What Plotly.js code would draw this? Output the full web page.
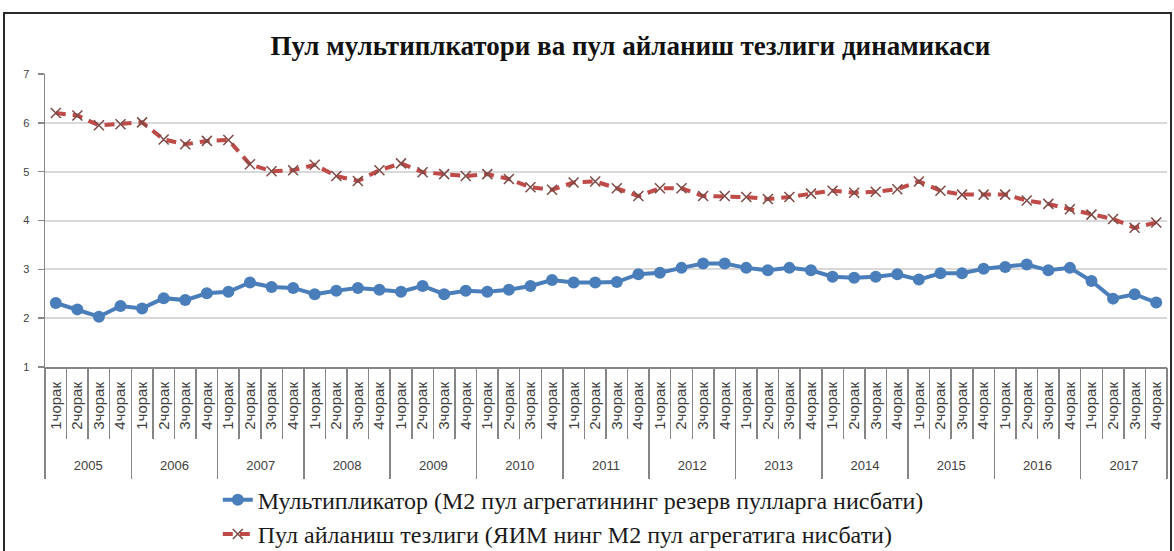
<!DOCTYPE html>
<html>
<head>
<meta charset="utf-8">
<script src="https://cdn.plot.ly/plotly-3.0.1.min.js"></script>
<style>
  html, body { margin: 0; padding: 0; background: #fff; }
  #chart { position: absolute; left: 0; top: 0; width: 1174px; height: 551px; }
  #frame { position: absolute; left: 3px; top: 12px; width: 1165px; height: 560px;
           border: 2px solid #2a2a2a; pointer-events: none; }
</style>
</head>
<body>
<div id="chart"></div>
<div id="frame"></div>
<script>
// ---- data ----
const years = ['2005','2006','2007','2008','2009','2010','2011','2012','2013','2014','2015','2016','2017'];
const quarters = ['1чорак','2чорак','3чорак','4чорак'];

const multiplier = [
  2.31, 2.18, 2.03, 2.25,   // 2005
  2.20, 2.41, 2.37, 2.51,   // 2006
  2.54, 2.73, 2.64, 2.62,   // 2007
  2.49, 2.56, 2.62, 2.58,   // 2008
  2.54, 2.66, 2.49, 2.56,   // 2009
  2.54, 2.58, 2.66, 2.78,   // 2010
  2.73, 2.73, 2.74, 2.90,   // 2011
  2.93, 3.03, 3.12, 3.12,   // 2012
  3.03, 2.98, 3.03, 2.98,   // 2013
  2.85, 2.83, 2.85, 2.90,   // 2014
  2.79, 2.92, 2.92, 3.01,   // 2015
  3.05, 3.10, 2.98, 3.03,   // 2016
  2.76, 2.40, 2.49, 2.32    // 2017
];

const velocity = [
  6.20, 6.15, 5.95, 5.97,   // 2005
  6.01, 5.66, 5.56, 5.63,   // 2006
  5.65, 5.15, 5.01, 5.03,   // 2007
  5.14, 4.91, 4.81, 5.03,   // 2008
  5.17, 4.99, 4.95, 4.91,   // 2009
  4.95, 4.85, 4.68, 4.63,   // 2010
  4.78, 4.80, 4.66, 4.50,   // 2011
  4.66, 4.66, 4.50, 4.50,   // 2012
  4.48, 4.44, 4.48, 4.55,   // 2013
  4.61, 4.57, 4.59, 4.64,   // 2014
  4.80, 4.61, 4.53, 4.53,   // 2015
  4.53, 4.41, 4.34, 4.23,   // 2016
  4.12, 4.03, 3.85, 3.96    // 2017
];

const seriesNames = [
  'Мультипликатор (М2 пул агрегатининг резерв пулларга нисбати)',
  'Пул айланиш тезлиги (ЯИМ нинг М2 пул агрегатига нисбати)'
];
const titleText = 'Пул мультиплкатори ва пул айланиш тезлиги динамикаси';

// ---- build category structure ----
const xYears = [], xQuarters = [];
years.forEach(y => quarters.forEach(q => { xYears.push(y); xQuarters.push(q); }));
const nCat = xYears.length;
const nQ = quarters.length;
const catIndex = xQuarters.map((_, i) => i);
const yearCenters = years.map((_, i) => i * nQ + (nQ - 1) / 2);
const xRange = [-0.5, nCat - 0.5];

// invisible carrier so that an overlay axis gets drawn
function carrier(axis) {
  return { type: 'scatter', mode: 'lines', xaxis: axis, yaxis: 'y',
           x: [0], y: [null], showlegend: false, hoverinfo: 'skip' };
}

const traces = [
  {
    type: 'scatter', mode: 'lines+markers', name: seriesNames[0],
    x: [xYears, xQuarters], y: multiplier,
    line: { color: '#4a7ebb', width: 4 },
    marker: { symbol: 'circle', size: 12, color: '#4a7ebb' }
  },
  {
    type: 'scatter', mode: 'lines+markers', name: seriesNames[1],
    x: [xYears, xQuarters], y: velocity,
    line: { color: '#be4b48', width: 4, dash: '10px,7px' },
    marker: { symbol: 'x-thin', size: 10, line: { width: 1.5, color: '#7d4a46' } }
  },
  carrier('x2'), carrier('x3'), carrier('x4'), carrier('x5')
];

const axisFont = 'Liberation Sans, Arial, sans-serif';
const overlayBase = {
  type: 'linear', overlaying: 'x', anchor: 'y', side: 'bottom', range: xRange,
  showgrid: false, zeroline: false, showline: false
};

const layout = {
  width: 1174, height: 551,
  margin: { l: 45, r: 7, t: 74, b: 184, autoexpand: false },
  paper_bgcolor: '#ffffff', plot_bgcolor: '#ffffff',
  showlegend: true,
  title: {
    text: '<b>' + titleText + '</b>',
    font: { family: 'Liberation Serif, Times New Roman, serif', size: 27, color: '#111' },
    x: 0.537, xref: 'container', xanchor: 'center',
    y: 0.918, yref: 'container', yanchor: 'middle'
  },
  // main data axis (categories)
  xaxis: {
    type: 'multicategory', range: xRange,
    showticklabels: false, ticks: '', showdividers: false,
    showline: true, linecolor: '#868686', linewidth: 1.5,
    showgrid: false, zeroline: false
  },
  // quarter boundary ticks
  xaxis2: Object.assign({}, overlayBase, {
    tickmode: 'linear', tick0: -0.5, dtick: 1,
    ticks: 'outside', ticklen: 71, tickwidth: 1.5, tickcolor: '#868686',
    showticklabels: false
  }),
  // year boundary ticks
  xaxis3: Object.assign({}, overlayBase, {
    tickmode: 'linear', tick0: -0.5, dtick: nQ,
    ticks: 'outside', ticklen: 111, tickwidth: 1.5, tickcolor: '#868686',
    showticklabels: false
  }),
  // quarter labels
  xaxis4: Object.assign({}, overlayBase, {
    tickmode: 'array', tickvals: catIndex, ticktext: xQuarters,
    tickangle: -90,
    ticks: 'outside', ticklen: 8, tickcolor: 'rgba(0,0,0,0)',
    tickfont: { family: axisFont, size: 15, color: '#404040' }
  }),
  // year labels
  xaxis5: Object.assign({}, overlayBase, {
    tickmode: 'array', tickvals: yearCenters, ticktext: years,
    tickangle: 0,
    ticks: 'outside', ticklen: 86, tickcolor: 'rgba(0,0,0,0)',
    tickfont: { family: axisFont, size: 13, color: '#404040' }
  }),
  yaxis: {
    range: [1, 7], dtick: 1, tick0: 1,
    tickfont: { family: axisFont, size: 11, color: '#404040' },
    ticks: 'outside', ticklen: 6, tickwidth: 1.5, tickcolor: '#868686',
    ticklabelstandoff: 6,
    showline: true, linecolor: '#868686', linewidth: 1.5,
    showgrid: true, gridcolor: '#d9d9d9', gridwidth: 2,
    zeroline: false
  },
  legend: {
    orientation: 'v',
    x: 0.154, xanchor: 'left', y: -0.378, yanchor: 'top',
    font: { family: 'Liberation Serif, Times New Roman, serif', size: 24, color: '#1a1a1a' },
    itemwidth: 30,
    bgcolor: 'rgba(0,0,0,0)'
  }
};

Plotly.newPlot('chart', traces, layout, { displayModeBar: false, staticPlot: true });
</script>
</body>
</html>
